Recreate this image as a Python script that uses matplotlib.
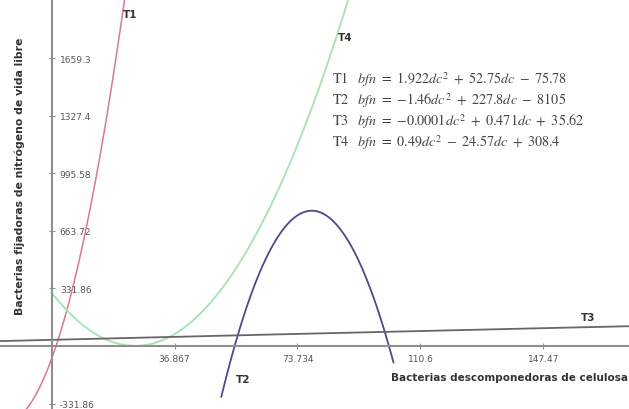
import numpy as np
import matplotlib.pyplot as plt

plt.rcParams['mathtext.fontset'] = 'stix'

# bfn = a*dc^2 + b*dc + c   (a, b, c)
t1 = [1.922, 52.75, -75.78]
t2 = [-1.46, 227.8, -8105]
t3 = [-0.0001, 0.471, 35.62]
t4 = [0.49, -24.57, 308.4]

# range of dc drawn for each curve
t1_range = [-16, 30]
t2_range = [50.9, 102.5]
t3_range = [-16, 175]
t4_range = [0, 92]

x_ticks = [36.867, 73.734, 110.6, 147.47]
x_tick_labels = ["36.867", "73.734", "110.6", "147.47"]
y_ticks = [-331.86, 331.86, 663.72, 995.58, 1327.4, 1659.3]
y_tick_labels = ["-331.86", "331.86", "663.72", "995.58", "1327.4", "1659.3"]

eq_texts = [
    r"$\mathrm{T1}\ \ \ bfn\ =\ 1.922dc^2\ +\ 52.75dc\ -\ 75.78$",
    r"$\mathrm{T2}\ \ \ bfn\ =\ {-}1.46dc^2\ +\ 227.8dc\ -\ 8105$",
    r"$\mathrm{T3}\ \ \ bfn\ =\ {-}0.0001dc^2\ +\ 0.471dc\ +\ 35.62$",
    r"$\mathrm{T4}\ \ \ bfn\ =\ 0.49dc^2\ -\ 24.57dc\ +\ 308.4$",
]


def curve(coef, rng):
    x = np.linspace(rng[0], rng[1], 400)
    return x, np.polyval(coef, x)


fig = plt.figure(figsize=(6.29, 4.10), dpi=100)
ax = fig.add_axes([0, 0, 1, 1])
ax.set_xlim(-15.44, 173.1)
ax.set_ylim(-363.6, 2002.6)

# curves
for coef, rng, col, lw in [(t1, t1_range, '#d9798f', 1.1),
                           (t4, t4_range, '#a9e4b6', 1.4),
                           (t2, t2_range, '#4b4b8c', 1.3),
                           (t3, t3_range, '#666666', 1.3)]:
    x, y = curve(coef, rng)
    ax.plot(x, y, color=col, lw=lw)

# axes through the origin, GeoGebra style
for s in ['top', 'left']:
    ax.spines[s].set_visible(False)
ax.spines['right'].set_position(('data', 0))
ax.spines['bottom'].set_position(('data', 0))
for s in ['right', 'bottom']:
    ax.spines[s].set_color('#8f8f8f')
    ax.spines[s].set_linewidth(1.5)
ax.yaxis.tick_right()
ax.set_xticks(x_ticks, x_tick_labels)
ax.set_yticks(y_ticks, y_tick_labels)
ax.tick_params(direction='inout', length=4, color='#8f8f8f',
               labelsize=6.5, labelcolor='#555555')
ax.tick_params(axis='x', pad=4)
ax.tick_params(axis='y', pad=4)

# axis titles
fig.text(0.032, 0.57, "Bacterias fijadoras de nitrógeno de vida libre",
         rotation=90, ha='center', va='center', fontsize=7.8,
         fontweight='bold', color='#333333')
fig.text(0.998, 0.078, "Bacterias descomponedoras de celulosa",
         ha='right', va='center', fontsize=7.5, fontweight='bold',
         color='#333333')

# curve names
for name, px, py in [("T1", 130, 15), ("T4", 345, 38),
                     ("T2", 243, 380), ("T3", 588, 318)]:
    fig.text(px / 629, 1 - py / 410, name, ha='center', va='center',
             fontsize=7.5, fontweight='bold', color='#333333')

# equations
for i, t in enumerate(eq_texts):
    fig.text(332 / 629, 1 - (80 + 21 * i) / 410, t, ha='left', va='center',
             fontsize=10.2, color='#444444')

fig.savefig("out.png", dpi=100)
